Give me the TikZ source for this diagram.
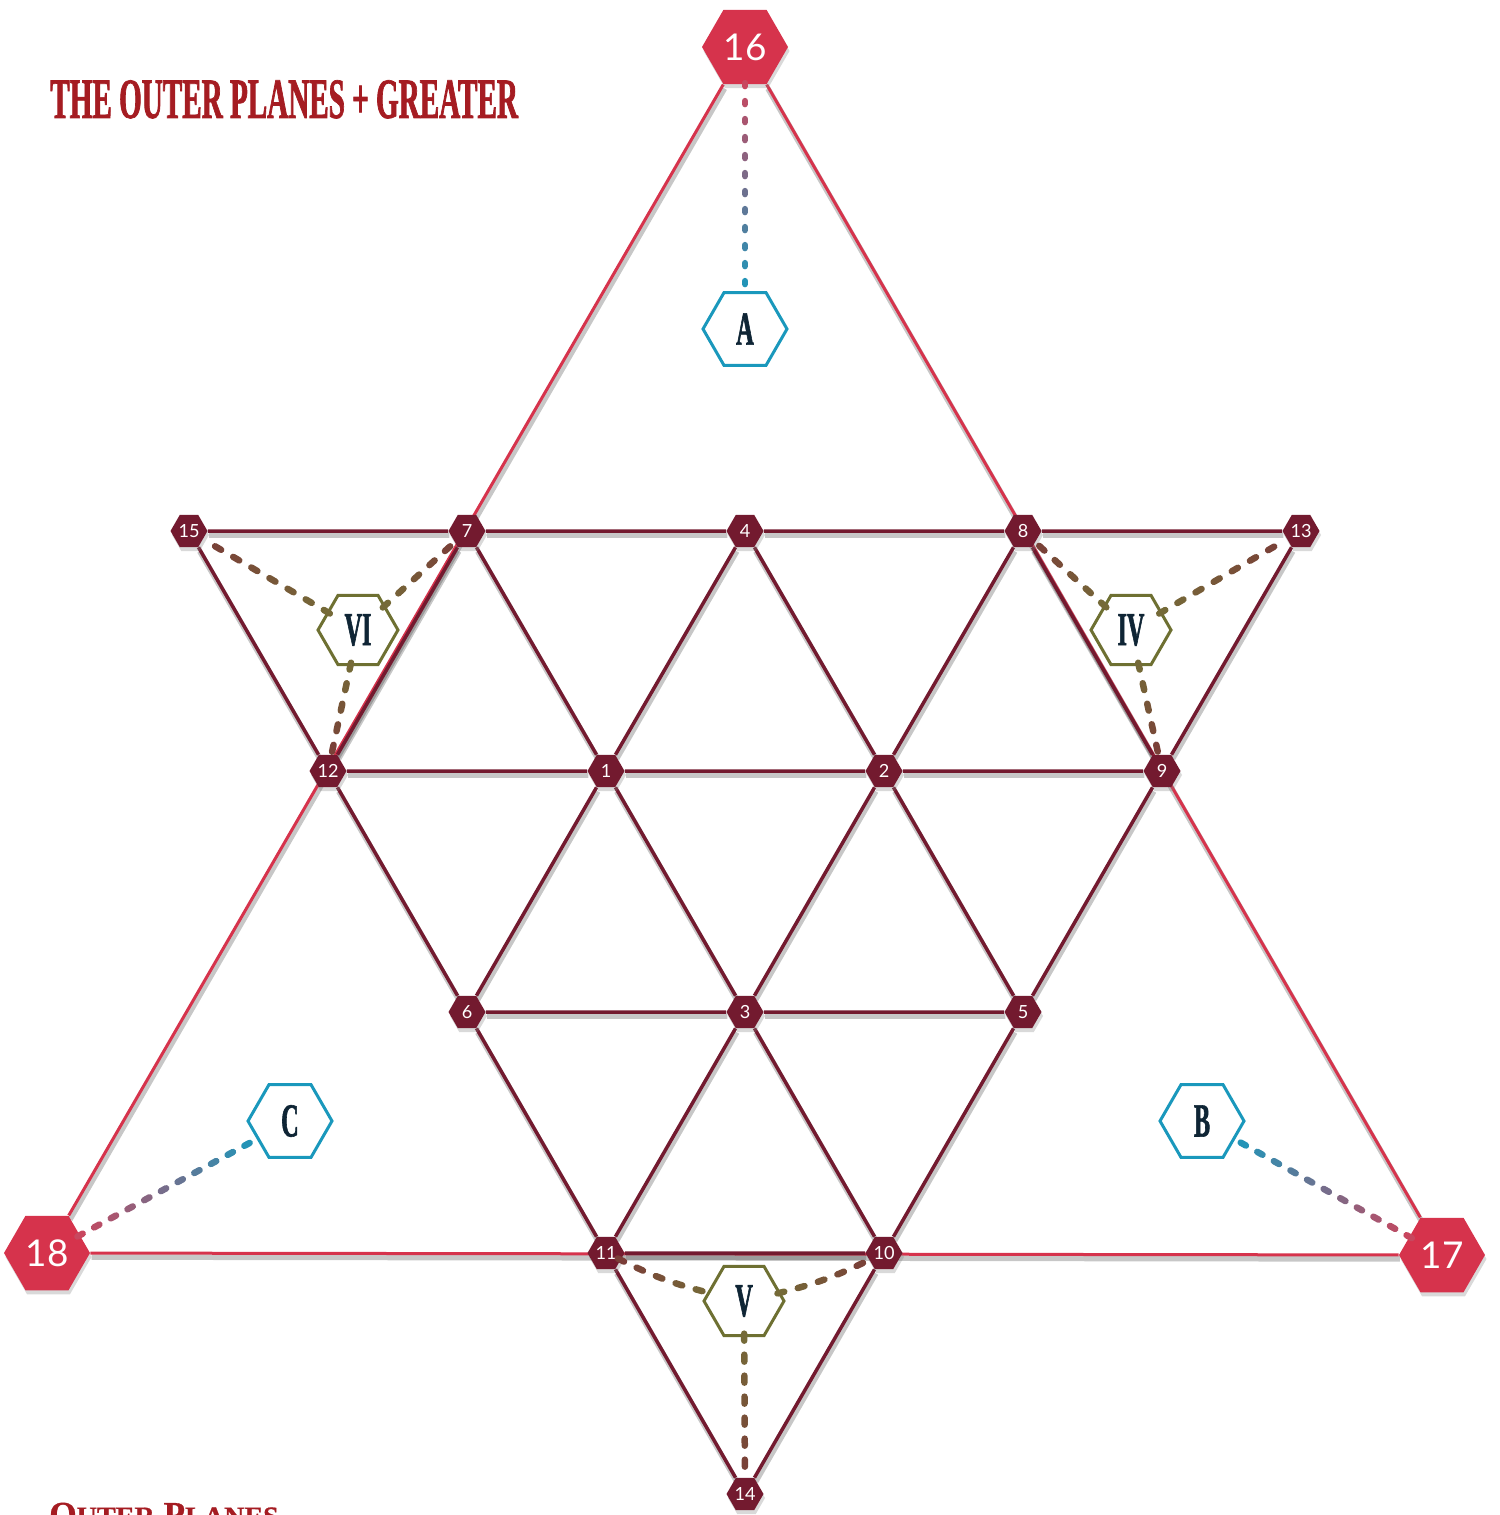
\documentclass[tikz,border=0pt]{standalone}
\usepackage{fontspec}
\setsansfont{Lato}
\newfontfamily\condfont[FakeStretch=0.51,FakeBold=1.2]{Liberation Serif}
\newfontfamily\headfont[FakeBold=0.8]{Liberation Serif}
\usetikzlibrary{shapes.geometric,shadows,backgrounds,decorations.markings}

\definecolor{plane}{HTML}{731A2F}
\definecolor{outer}{HTML}{D6334C}
\definecolor{titlered}{HTML}{A51C22}
\definecolor{gateblue}{HTML}{1A98BC}
\definecolor{gateolive}{HTML}{6E7032}
\definecolor{ink}{HTML}{0F2535}
\definecolor{dotred}{HTML}{C8475F}
\definecolor{dotbrown}{HTML}{7A3D38}
\definecolor{dotolive}{HTML}{756A38}

\begin{document}
\begin{tikzpicture}[x=0.2mm,y=-0.2mm,
  hexa/.style={regular polygon,regular polygon sides=6,inner sep=0pt},
  hshadow/.style={drop shadow={shadow xshift=0.3mm,shadow yshift=-0.8mm,opacity=0.3}},
  plane/.style={hexa,hshadow,fill=plane,minimum size=7.4mm,text=white,
                font=\sffamily\fontsize{10.3}{10.3}\selectfont},
  bigplane/.style={hexa,hshadow,fill=outer,minimum size=17.2mm,text=white,
                font=\sffamily\fontsize{21}{21}\selectfont},
  gate/.style={hexa,fill=white,line width=0.6mm,text=ink,
                font=\condfont\bfseries\fontsize{27}{27}\selectfont},
  bluegate/.style={gate,draw=gateblue,minimum size=16.8mm},
  olivegate/.style={gate,draw=gateolive,minimum size=16mm},
  lattice/.style={draw=plane,line width=0.7mm},
  rim/.style={draw=outer,line width=0.6mm},
  shade/.style={draw=black,opacity=0.22,line width=1.1mm},
  glink/.style n args={4}{decoration={markings,
      mark=between positions 0 and 1 step #4 with {%
        \pgfmathtruncatemacro\pct{\pgfkeysvalueof{/pgf/decoration/mark info/distance from start}/\pgfdecoratedpathlength*100}%
        \draw[line width=1.3mm,line cap=round,#2!\pct!#1] (-#3,0) -- (#3,0);}},
      postaction={decorate}}
]
  \useasboundingbox (0,0) rectangle (1499,1515);

  % title and the cut heading below
  \node[anchor=base west,text=titlered,font=\condfont\bfseries\fontsize{32.5}{32.5}\selectfont,inner sep=0pt]
    (title) at (50,118) {THE OUTER PLANES + GREATER};
  \node[anchor=base west,text=titlered,font=\headfont\bfseries\fontsize{20}{20}\selectfont,inner sep=0pt]
    (next) at (49,1526) {O{\fontsize{16}{16}\selectfont UTER} P{\fontsize{16}{16}\selectfont LANES}};

  % outer corners
  \node[bigplane] (n16) at (745,47)   {16};
  \node[bigplane] (n17) at (1442,1255) {17};
  \node[bigplane] (n18) at (47,1253)  {18};

  % planes
  \node[plane] (n15) at (189,531)  {15};
  \node[plane] (n7)  at (467,531)  {7};
  \node[plane] (n4)  at (745,531)  {4};
  \node[plane] (n8)  at (1023,531) {8};
  \node[plane] (n13) at (1301,531) {13};
  \node[plane] (n12) at (328,771)  {12};
  \node[plane] (n1)  at (606,771)  {1};
  \node[plane] (n2)  at (884,771)  {2};
  \node[plane] (n9)  at (1162,771) {9};
  \node[plane] (n6)  at (467,1012) {6};
  \node[plane] (n3)  at (745,1012) {3};
  \node[plane] (n5)  at (1023,1012) {5};
  \node[plane] (n11) at (606,1253) {11};
  \node[plane] (n10) at (884,1253) {10};
  \node[plane] (n14) at (745,1494) {14};

  % gates
  \node[bluegate]  (a)  at (745,329)  {A};
  \node[bluegate]  (b)  at (1202,1121) {B};
  \node[bluegate]  (c)  at (290,1121) {C};
  \node[olivegate] (iv) at (1131,630) {IV};
  \node[olivegate] (v)  at (744,1301) {V};
  \node[olivegate] (vi) at (358,630)  {VI};

  \begin{scope}[on background layer]
    \begin{scope}[transform canvas={shift={(0.25mm,-0.8mm)}}]
      \foreach \a/\b in {16/18,16/17,18/17}
        \draw[shade] (n\a) -- (n\b);
    \end{scope}
    \foreach \a/\b in {16/18,16/17,18/17}
      \draw[rim] (n\a) -- (n\b);
    \begin{scope}[transform canvas={shift={(0.25mm,-0.8mm)}}]
      \foreach \a/\b in {15/7,7/4,4/8,8/13,12/1,1/2,2/9,6/3,3/5,11/10,
                         15/12,7/12,7/1,4/1,4/2,8/2,8/9,13/9,12/6,1/6,
                         1/3,2/3,2/5,9/5,6/11,3/11,3/10,5/10,11/14,10/14}
        \draw[shade] (n\a) -- (n\b);
    \end{scope}
    \foreach \a/\b in {15/7,7/4,4/8,8/13,12/1,1/2,2/9,6/3,3/5,11/10,
                       15/12,7/12,7/1,4/1,4/2,8/2,8/9,13/9,12/6,1/6,
                       1/3,2/3,2/5,9/5,6/11,3/11,3/10,5/10,11/14,10/14}
      \draw[lattice] (n\a) -- (n\b);
  \end{scope}

  % dotted links
  \path[glink={dotred}{gateblue}{1.5}{3.6mm}] (n16) -- (a);
  \path[glink={dotred}{gateblue}{3}{3.8mm}] (n18) -- (c);
  \path[glink={dotred}{gateblue}{3}{3.8mm}] (n17) -- (b);
  \foreach \g/\p in {vi/15,vi/7,vi/12,iv/8,iv/13,iv/9,v/14}
    \path[glink={dotolive}{dotbrown}{3.5}{4.2mm}] (\g) -- (n\p);
  \path[glink={dotbrown}{dotolive}{3.5}{4.2mm}] (n11) to[bend right=6] (v);
  \path[glink={dotolive}{dotbrown}{3.5}{4.2mm}] (v) to[bend right=6] (n10);
\end{tikzpicture}
\end{document}
